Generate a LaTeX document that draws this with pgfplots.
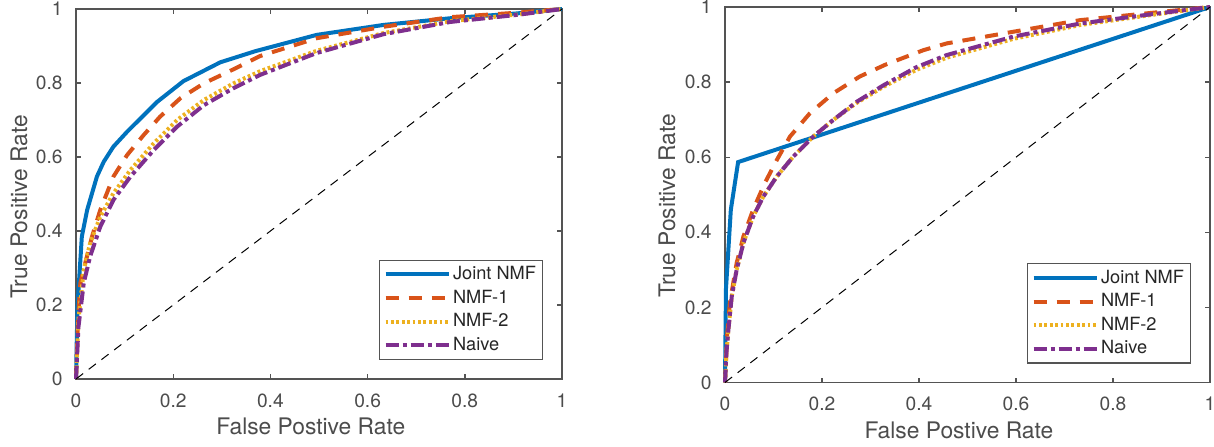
\documentclass[border=0pt]{standalone}
\usepackage{pgfplots}
\pgfplotsset{compat=1.18}
\usepackage{fontspec}
\setmainfont{TeX Gyre Heros}

% MATLAB default line colours
\definecolor{mblue}{rgb}{0,0.447,0.741}
\definecolor{morange}{rgb}{0.85,0.325,0.098}
\definecolor{myellow}{rgb}{0.929,0.694,0.125}
\definecolor{mpurple}{rgb}{0.494,0.184,0.556}
\definecolor{axgray}{rgb}{0.33,0.33,0.33}
\definecolor{txtgray}{rgb}{0.30,0.30,0.30}

\pgfplotsset{
  rocaxis/.style={
    scale only axis,
    anchor=south west,
    xmin=0, xmax=1, ymin=0, ymax=1,
    xtick={0,0.2,...,1}, ytick={0,0.2,...,1},
    xticklabels={0,0.2,0.4,0.6,0.8,1},
    yticklabels={0,0.2,0.4,0.6,0.8,1},
    tick align=inside,
    major tick length=2.5pt,
    axis line style={draw=axgray, line width=0.7pt},
    every tick/.style={draw=axgray, line width=0.7pt},
    tick label style={font=\fontsize{9.6}{11}\selectfont, text=txtgray},
    /pgf/number format/assume math mode=true,
    xticklabel style={anchor=center, yshift=-10.75pt},
    yticklabel style={anchor=east, xshift=-3.2pt},
    label style={font=\fontsize{11.4}{13}\selectfont, text=txtgray},
    xlabel={False Postive Rate},
    ylabel={True Positive Rate},
    clip=false,
    legend cell align=left,
    legend style={
      at={(1,0)}, anchor=south east, xshift=-9.5pt, yshift=9.5pt,
      draw=axgray, line width=0.6pt, fill=white,
      font=\fontsize{9.1}{10}\selectfont,
      inner xsep=2pt, inner ysep=1.5pt,
      row sep=0.6pt,
      nodes={inner sep=1.2pt, text height=7pt, text depth=1.8pt, text=black!85},
    },
    legend image code/.code={\draw[##1] (0pt,0pt) -- (31.5pt,0pt);},
  },
  joint/.style={draw=mblue, line width=2pt, solid},
  nmfa/.style={draw=morange, line width=2pt, dash pattern=on 6.5pt off 5pt},
  nmfb/.style={draw=myellow, line width=2pt, dash pattern=on 1.4pt off 1.3pt},
  naive/.style={draw=mpurple, line width=2pt, dash pattern=on 6.5pt off 2pt on 2pt off 2pt},
  diag/.style={draw=black, line width=0.5pt, dash pattern=on 4.5pt off 3.5pt},
}

\begin{document}
\begin{tikzpicture}
\path[use as bounding box] (0,0) rectangle (607pt,223pt);

% ---------- left panel ----------
\begin{axis}[rocaxis,
  at={(38pt,33.5pt)}, width=243pt, height=185pt,
  xlabel style={at={(axis description cs:0.5,0)}, anchor=center, xshift=-4.1pt, yshift=-23.75pt},
  ylabel style={at={(axis description cs:0,0.5)}, anchor=center, yshift=28.5pt, xshift=-6.5pt},
]
\addplot[joint] coordinates {
 (0,0) (0.003,0.195) (0.012,0.385) (0.023,0.457) (0.043,0.547) (0.057,0.587)
 (0.077,0.628) (0.105,0.668) (0.167,0.749) (0.221,0.805) (0.297,0.856)
 (0.369,0.886) (0.495,0.930) (0.633,0.957) (0.770,0.975) (0.907,0.988) (1,1)};
\addlegendentry{Joint NMF}
\addplot[nmfa] coordinates {
 (0,0) (0.004,0.16) (0.009,0.259) (0.019,0.313) (0.033,0.385) (0.050,0.457)
 (0.077,0.547) (0.105,0.605) (0.139,0.659) (0.173,0.709) (0.215,0.759)
 (0.263,0.799) (0.324,0.837) (0.379,0.873) (0.495,0.921) (0.633,0.952)
 (0.770,0.978) (0.907,0.990) (1,1)};
\addlegendentry{NMF-1}
\addplot[nmfb] coordinates {
 (0,0) (0.005,0.16) (0.016,0.295) (0.029,0.367) (0.050,0.439) (0.077,0.502)
 (0.112,0.565) (0.160,0.637) (0.208,0.700) (0.263,0.754) (0.324,0.799)
 (0.379,0.832) (0.495,0.887) (0.633,0.935) (0.770,0.967) (0.907,0.985) (1,1)};
\addlegendentry{NMF-2}
\addplot[naive] coordinates {
 (0,0) (0.005,0.14) (0.016,0.26) (0.029,0.331) (0.050,0.412) (0.077,0.484)
 (0.112,0.547) (0.160,0.619) (0.208,0.682) (0.263,0.740) (0.324,0.786)
 (0.379,0.822) (0.495,0.881) (0.633,0.932) (0.770,0.965) (0.907,0.984) (1,1)};
\addlegendentry{Naive}
\addplot[diag, forget plot] coordinates {(0,0) (1,1)};
\end{axis}

% ---------- right panel ----------
\begin{axis}[rocaxis,
  at={(362.5pt,31.75pt)}, width=242.5pt, height=187.75pt,
  xlabel style={at={(axis description cs:0.5,0)}, anchor=center, xshift=-4.3pt, yshift=-24pt},
  ylabel style={at={(axis description cs:0,0.5)}, anchor=center, yshift=29pt, xshift=-5.5pt},
]
\addplot[joint] coordinates {
 (0,0) (0.002,0.25) (0.012,0.46) (0.027,0.587) (1,1)};
\addlegendentry{Joint NMF}
\addplot[nmfa] coordinates {
 (0,0) (0.004,0.12) (0.010,0.212) (0.024,0.318) (0.038,0.389) (0.058,0.460)
 (0.082,0.531) (0.107,0.593) (0.134,0.655) (0.175,0.717) (0.223,0.770)
 (0.278,0.815) (0.330,0.846) (0.409,0.885) (0.457,0.903) (0.594,0.934)
 (0.732,0.965) (0.869,0.983) (1,1)};
\addlegendentry{NMF-1}
\addplot[nmfb] coordinates {
 (0,0) (0.003,0.08) (0.007,0.141) (0.014,0.230) (0.024,0.300) (0.038,0.372)
 (0.058,0.442) (0.079,0.495) (0.107,0.549) (0.141,0.602) (0.182,0.655)
 (0.223,0.699) (0.272,0.745) (0.326,0.787) (0.395,0.833) (0.457,0.865)
 (0.594,0.915) (0.732,0.952) (0.869,0.977) (1,1)};
\addlegendentry{NMF-2}
\addplot[naive] coordinates {
 (0,0) (0.003,0.08) (0.007,0.141) (0.014,0.230) (0.024,0.300) (0.038,0.372)
 (0.058,0.442) (0.079,0.495) (0.107,0.549) (0.141,0.602) (0.182,0.655)
 (0.223,0.699) (0.272,0.748) (0.326,0.791) (0.395,0.840) (0.457,0.872)
 (0.594,0.921) (0.732,0.956) (0.869,0.979) (1,1)};
\addlegendentry{Naive}
\addplot[diag, forget plot] coordinates {(0,0) (1,1)};
\end{axis}
\end{tikzpicture}
\end{document}
